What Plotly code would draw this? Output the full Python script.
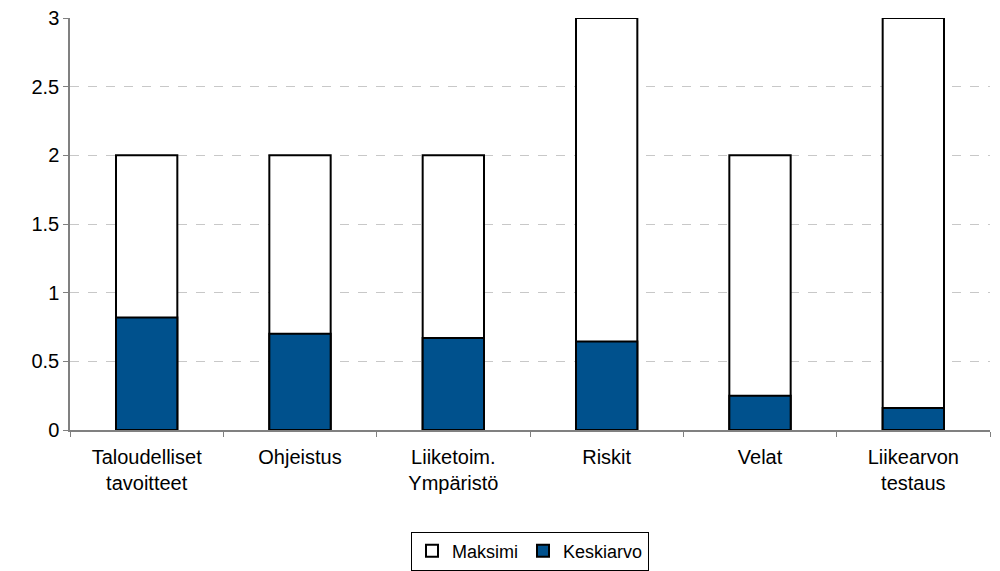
import plotly.graph_objects as go

categories = ["Taloudelliset<br>tavoitteet", "Ohjeistus", "Liiketoim.<br>Ympäristö", "Riskit", "Velat", "Liikearvon<br>testaus"]
maksimi = [2, 2, 2, 3, 2, 3]
keskiarvo = [0.82, 0.70, 0.67, 0.645, 0.25, 0.16]

fig = go.Figure()
fig.add_trace(go.Bar(x=categories, y=maksimi, name="Maksimi", width=0.4,
                     marker=dict(color="white", line=dict(color="black", width=2))))
fig.add_trace(go.Bar(x=categories, y=keskiarvo, name="Keskiarvo", width=0.4,
                     marker=dict(color="#00518D", line=dict(color="black", width=2))))

fig.update_layout(
    barmode="overlay",
    width=992, height=563,
    margin=dict(l=62, r=10, t=10, b=141),
    paper_bgcolor="white", plot_bgcolor="white",
    font=dict(family="Liberation Sans, Arial, sans-serif", size=19, color="black"),
    showlegend=True,
    legend=dict(orientation="h", x=0.5, xanchor="center", xref="paper",
                y=0.07, yanchor="top", yref="container",
                bordercolor="black", borderwidth=1, font=dict(size=18),
                traceorder="normal", tracegroupgap=0, itemwidth=30),
    xaxis=dict(showline=True, linecolor="#808080", linewidth=1.5, ticks="outside",
               tickson="boundaries", ticklen=5, tickcolor="#808080", showgrid=False,
               tickfont=dict(size=20), automargin=False, ticklabelstandoff=8),
    yaxis=dict(range=[0, 3], dtick=0.5, showline=True, linecolor="#808080", linewidth=1.5,
               ticks="outside", ticklen=5, tickcolor="#808080",
               showgrid=True, gridcolor="#C8C8C8", griddash="dash", gridwidth=1,
               zeroline=False, tickfont=dict(size=20), automargin=False,
               ticklabeloverflow="allow"),
)

fig.write_html("out.html")
